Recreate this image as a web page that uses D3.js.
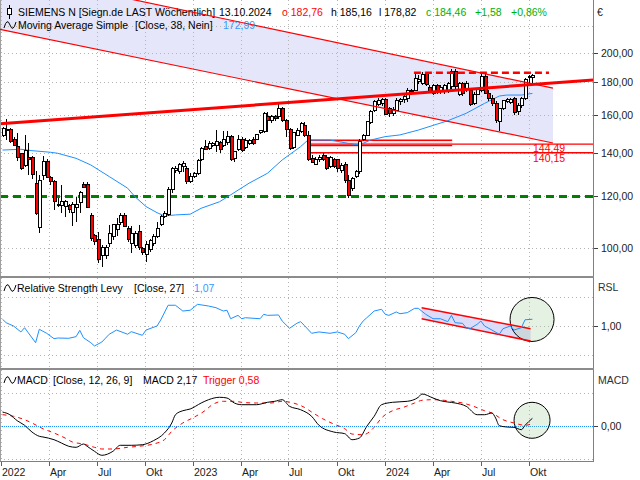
<!DOCTYPE html>
<html><head><meta charset="utf-8">
<script src="https://cdn.jsdelivr.net/npm/d3@7"></script>
<style>
body{margin:0;background:#fff}
svg{display:block}
text{font-family:"Liberation Sans",Arial,sans-serif;font-size:10.5px}
</style>
</head><body>
<svg id="c" width="640" height="480"></svg>
<script>
// ---------------- DATA ----------------
const firstWeek = [2022, 0, 3]; // Monday of first weekly bar
const open  = [148.9,152.3,152.3,147.1,143.2,139.7,133.9,138.0,137.6,125.7,107.6,129.5,135.8,128.5,126.4,116.8,116.2,115.9,116.2,113.3,
115.3,117.3,125.1,125.1,112.0,104.4,102.9,97.3,97.5,101.4,104.0,106.6,109.4,112.0,107.2,101.7,100.9,105.8,99.7,97.6,
99.3,101.4,104.0,108.5,111.6,112.4,122.8,131.8,131.0,133.4,132.6,126.7,128.8,130.1,136.6,143.2,142.3,143.6,144.0,145.5,
144.0,145.3,148.4,137.4,141.9,147.1,142.7,145.0,147.1,147.1,150.4,151.0,159.6,157.4,159.3,159.3,164.2,157.4,152.4,142.7,
149.2,151.0,154.3,148.8,137.3,134.4,136.6,138.8,138.0,133.4,136.9,136.6,131.8,134.2,127.2,123.6,129.0,131.0,146.8,149.1,
155.9,162.9,166.5,166.9,169.6,164.2,161.3,163.1,168.0,169.5,170.0,174.0,175.0,180.7,179.5,185.4,176.8,173.0,177.9,174.3,
174.3,175.1,177.1,187.3,172.6,179.1,175.3,175.1,167.0,172.6,175.1,183.5,173.0,170.0,167.0,156.5,164.0,168.0,167.5,170.0,
162.0,166.0,170.0,183.5,182.76];
const high  = [153.7,157.9,153.0,148.0,150.1,140.0,149.0,145.0,138.5,131.4,129.5,138.3,137.0,129.0,127.2,119.5,124.8,118.5,117.0,117.5,
119.8,122.2,126.3,126.3,113.2,105.0,105.9,100.9,101.0,108.5,109.0,111.1,113.0,113.0,108.0,107.9,106.0,108.5,100.2,102.3,
103.2,105.0,109.7,112.5,114.0,124.0,133.4,133.5,135.0,135.9,133.5,130.3,131.0,137.0,143.0,146.6,146.0,145.5,151.9,146.0,
151.5,151.5,149.0,141.0,149.5,148.0,147.5,147.0,148.0,150.0,152.0,162.0,161.9,160.5,160.0,167.3,165.0,158.2,153.0,151.0,
153.0,156.4,156.4,151.3,139.0,138.0,139.0,140.0,139.0,138.5,137.5,137.0,135.0,135.5,129.5,128.5,132.0,147.0,150.0,157.0,
163.0,169.0,170.0,170.5,170.0,165.0,165.0,170.0,170.5,172.0,176.2,176.0,186.9,184.8,186.9,186.5,178.0,179.0,179.0,178.0,
179.0,180.0,188.9,188.5,180.0,180.0,181.0,176.5,174.0,176.0,185.5,185.5,175.0,172.0,168.5,164.5,169.0,170.5,170.5,171.0,
167.0,171.0,183.0,185.0,185.16];
const low   = [148.3,146.6,145.0,143.5,135.9,131.8,133.4,129.5,127.5,112.4,105.6,127.2,128.0,125.0,114.4,115.5,113.1,111.7,113.0,108.0,
109.7,113.1,123.5,115.0,102.3,101.0,94.7,93.6,96.0,100.4,103.0,104.3,108.5,107.5,102.0,98.1,100.0,99.3,97.5,95.0,
98.5,100.8,103.6,108.0,111.0,112.0,121.5,130.5,130.0,131.0,125.5,125.7,128.0,129.5,136.0,141.5,141.5,143.0,140.3,140.0,
143.0,144.0,135.9,135.8,141.0,140.5,142.0,144.0,144.0,146.5,150.0,150.5,150.7,156.0,157.0,158.2,156.5,148.0,141.5,142.0,
148.5,150.5,148.0,135.9,135.0,134.0,135.5,136.0,131.8,133.0,133.0,131.0,130.5,126.0,119.5,122.5,128.0,130.0,146.0,148.5,
155.0,162.0,165.5,165.5,160.0,159.0,159.5,162.5,166.0,167.0,168.0,172.0,174.5,179.0,178.0,177.5,173.0,172.0,172.5,172.5,
172.5,173.5,175.5,175.5,171.5,171.5,174.0,165.5,166.0,172.0,174.0,172.5,168.5,165.5,155.5,151.5,163.0,167.0,166.5,160.5,
160.0,164.5,169.0,179.5,178.82];
const close = [152.8,151.6,145.7,144.0,138.0,132.6,141.5,136.6,129.9,113.1,127.2,136.1,128.5,126.4,117.9,116.4,117.9,117.9,114.7,116.6,
116.6,121.7,123.9,115.3,103.5,102.3,95.8,100.2,100.0,105.4,108.5,108.5,112.0,107.9,102.9,105.4,105.4,100.2,98.3,101.1,
102.6,104.3,107.2,111.8,113.1,123.1,132.6,132.6,134.2,134.7,126.4,128.8,130.1,136.2,142.1,141.9,144.9,144.9,145.7,141.7,
146.9,148.4,136.9,140.7,147.1,141.5,146.6,146.6,145.0,149.4,151.5,161.3,157.1,159.3,158.2,164.2,157.4,152.4,142.4,150.4,
151.9,155.6,148.8,136.9,135.5,136.9,138.0,136.9,132.6,137.7,133.7,132.6,133.9,126.8,120.6,128.0,131.0,145.8,148.9,156.4,
162.5,168.0,169.0,169.6,160.5,161.3,163.6,169.0,169.5,171.1,175.1,174.9,182.5,181.8,185.1,178.6,174.1,177.9,174.5,176.8,
177.9,179.1,187.3,177.1,179.1,173.0,179.1,166.5,172.6,175.4,183.5,173.0,170.0,167.0,157.4,164.0,168.5,169.3,169.5,161.5,
166.0,170.0,182.0,182.88,184.46];

// Moving average (38) read at sample weeks
const maWeek  = [0,5,8,13,15,20,24,29,34,36,39,42,44,47,51,54,59,62,67,72,76,81,83,89,94,97,100,104,108,113,121,126,131,135,137,141,144];
const maValue = [141.5,141.9,141.2,140.4,139.9,137.4,134.2,128.8,123.6,119.9,115.8,113.3,112.0,112.4,112.7,115.1,117.8,120.7,125.8,130.3,136.6,143.2,146.6,146.6,144.9,144.1,146.6,148.4,149.3,151.9,157.0,161.2,167.0,171.4,172.0,172.0,172.99];

// Relative Strength Levy (27)
const rslWeek  = [0,1,3,5,6,7,9,10,12,14,15,18,20,21,22,24,25,27,29,31,34,35,38,39,42,43,45,47,49,51,53,56,58,60,61,62,64,65,66,70,71,72,75,76,78,80,81,82,84,86,
89,91,93,94,96,97,98,99,101,103,104,105,107,108,110,112,113,115,117,119,121,122,123,125,126,127,129,130,131,133,135,136,138,139,141,142,144];
const rslValue = [1.070,1.034,1.000,0.938,0.982,0.930,0.826,0.966,0.924,0.868,0.875,0.872,0.889,0.955,0.878,0.826,0.792,0.833,0.914,0.958,0.914,0.941,0.903,0.958,1.000,1.063,1.216,1.216,1.156,1.164,1.226,1.208,1.191,1.156,1.164,1.076,1.111,1.076,1.086,1.076,1.122,1.111,1.115,1.052,0.976,1.028,1.045,1.007,0.924,0.938,
0.924,0.938,0.914,0.868,0.930,1.000,1.052,1.086,1.156,1.174,1.122,1.111,1.146,1.128,1.139,1.184,1.184,1.122,1.076,1.076,1.045,1.111,1.034,1.028,0.982,0.972,1.018,1.052,1.000,0.958,0.914,0.972,1.000,0.958,0.982,1.065,1.070];

// MACD (12,26,9)
const macdWeek  = [0,2,4,6,8,10,11,14,16,18,20,22,23,25,27,30,32,35,38,41,44,46,47,49,51,54,56,59,61,63,65,69,72,74,76,78,81,84,86,90,93,95,97,99,101,103,106,110,113,114,117,119,121,123,126,129,131,133,134,135,137,139,141,142,144];
const macdValue = [4.09,3.27,1.45,0.06,-1.97,-3.27,-3.48,-4.30,-5.30,-6.30,-6.61,-5.61,-6.30,-7.82,-9.03,-7.82,-6.00,-6.00,-5.82,-4.61,-2.27,0.76,3.27,4.48,5.00,6.82,7.82,8.55,8.33,6.82,6.30,6.30,7.03,7.33,7.82,5.82,4.79,2.79,0.06,-1.97,-2.48,-4.30,-3.79,-0.24,2.79,6.30,7.03,7.33,8.55,9.55,8.33,7.52,7.12,6.82,5.82,3.27,3.27,3.79,2.27,-0.06,-0.45,-0.55,-1.27,0.06,2.17];
const trigWeek  = [0,3,6,8,11,14,17,19,22,25,27,30,34,37,41,44,46,49,52,55,57,60,63,65,69,73,76,79,82,84,87,90,93,95,98,101,103,106,109,112,114,117,120,122,125,128,131,133,136,139,142,144];
const trigValue = [3.27,2.79,1.76,0.76,-0.97,-2.27,-3.79,-5.00,-5.61,-6.61,-7.12,-7.12,-6.61,-6.30,-5.61,-4.30,-1.76,0.76,2.48,4.48,6.30,7.33,7.33,7.03,6.82,6.82,7.33,6.82,5.52,4.09,2.06,0.45,-0.97,-2.58,-2.79,-0.55,2.27,4.48,5.52,6.82,7.64,7.82,7.64,7.33,6.82,5.82,4.48,3.79,1.76,0.76,0.06,0.58];

// Drawings (week position, value)
const trendWeek = [-0.68, 160.5], trendValue = [155.3, 181.4];
const chanUpWeek = [-0.68, 149.6], chanUpValue = [266.6, 176.3];
const chanLoWeek = [-0.68, 149.6], chanLoValue = [217.1, 145.1];
const resistWeek = [111.8, 148.5], resistValue = 186.2;
const supportWeekStart = 83.3;
const supportLevels = [144.49, 140.15];
const supportLabels = ["144,49", "140,15"];
const shortLevels = [146.5, 143.7];
const shortWeekEnd = 122.2;
const greenLevel = 120;
const rslChanWeek = [113.9, 143.5], rslChanUp = [1.191, 0.972], rslChanLo = [1.076, 0.844];
const rslCircle = {week: 143.9, value: 1.068}, macdCircle = {week: 143.9, value: 1.58};

// Axes
const priceTicks = [100, 120, 140, 160, 180, 200];
const priceGrid = [100, 120, 140, 160, 180, 200, 220];
const rslGrid = [0.7, 1.0, 1.3];
const macdGrid = [-10, 0, 10];
const quarterDates = ["2022-01-01","2022-04-01","2022-07-01","2022-10-01","2023-01-01","2023-04-01","2023-07-01","2023-10-01","2024-01-01","2024-04-01","2024-07-01","2024-10-01"];
const quarterLabels = ["2022","Apr","Jul","Okt","2023","Apr","Jul","Okt","2024","Apr","Jul","Okt"];

// ---------------- LAYOUT ----------------
const svg = d3.select("#c");
const plotR = 593;
const P = {main:[0,276], rsl:[278,368], macd:[370,461]};
const fmt = v => d3.format(".2f")(v).replace(".", ",");

const weekDate = i => new Date(Date.UTC(firstWeek[0], firstWeek[1], firstWeek[2]) + i * 7 * 864e5);
const x = d3.scaleUtc().domain([weekDate(0), weekDate(144)]).range([2.5, 532.4]);
const xw = i => x(weekDate(i));
const yP = d3.scaleLog().domain([90.5, 241]).range([276, 0]);
const yR = d3.scaleLinear().domain([0.7, 1.3]).range([354.8, 297.2]);
const yM = d3.scaleLinear().domain([-10, 10]).range([458.5, 392.5]);

const defs = svg.append("defs");
Object.entries(P).forEach(([k, [t, b]]) => {
  defs.append("clipPath").attr("id", "clip-" + k).append("rect")
    .attr("x", 0).attr("y", t).attr("width", plotR).attr("height", b - t);
});
const gMain = svg.append("g").attr("clip-path", "url(#clip-main)");
const gRsl = svg.append("g").attr("clip-path", "url(#clip-rsl)");
const gMacd = svg.append("g").attr("clip-path", "url(#clip-macd)");

// ---- main: channel fill
const cu = chanUpWeek.map((w, k) => [xw(w), yP(chanUpValue[k])]);
const cl = chanLoWeek.map((w, k) => [xw(w), yP(chanLoValue[k])]);
gMain.append("path").attr("d", d3.line()([cu[0], cu[1], cl[1], cl[0]]) + "Z").attr("fill", "#e6e6fa");

// grids
const dot = g => g.attr("stroke", "#b4b4b4").attr("stroke-width", 1).attr("stroke-dasharray", "1,3").attr("shape-rendering", "crispEdges");
[[gMain, P.main], [gRsl, P.rsl], [gMacd, P.macd]].forEach(([g, [t, b]]) => {
  g.selectAll(null).data(quarterDates).enter().append("line")
    .attr("x1", d => Math.round(x(new Date(d))) + 0.5).attr("x2", d => Math.round(x(new Date(d))) + 0.5)
    .attr("y1", t).attr("y2", b).call(dot);
});
gMain.selectAll(null).data(priceGrid).enter().append("line")
  .attr("x1", 0).attr("x2", plotR).attr("y1", d => Math.round(yP(d)) + 0.5).attr("y2", d => Math.round(yP(d)) + 0.5).call(dot);
gRsl.selectAll(null).data(rslGrid).enter().append("line")
  .attr("x1", 0).attr("x2", plotR).attr("y1", d => Math.round(yR(d)) + 0.5).attr("y2", d => Math.round(yR(d)) + 0.5).call(dot);
gMacd.selectAll(null).data(macdGrid.filter(d => d !== 0)).enter().append("line")
  .attr("x1", 0).attr("x2", plotR).attr("y1", d => Math.round(yM(d)) + 0.5).attr("y2", d => Math.round(yM(d)) + 0.5).call(dot);

// support lines
const xs0 = xw(supportWeekStart), xsE = xw(shortWeekEnd);
gMain.append("rect").attr("x", xs0).attr("width", xsE - xs0)
  .attr("y", yP(shortLevels[0])).attr("height", yP(shortLevels[1]) - yP(shortLevels[0])).attr("fill", "#fbe4ea");
shortLevels.forEach(v => gMain.append("line").attr("x1", xs0).attr("x2", xsE).attr("y1", yP(v)).attr("y2", yP(v))
  .attr("stroke", "#ff0000").attr("stroke-width", 1.3));
supportLevels.forEach(v => gMain.append("line").attr("x1", xs0).attr("x2", plotR).attr("y1", yP(v)).attr("y2", yP(v))
  .attr("stroke", "#ff0000").attr("stroke-width", 1.3));

// green dashed
gMain.append("line").attr("x1", 0).attr("x2", plotR).attr("y1", yP(greenLevel)).attr("y2", yP(greenLevel))
  .attr("stroke", "#008000").attr("stroke-width", 3).attr("stroke-dasharray", "8,5");

// MA
gMain.append("path").datum(maWeek.map((w, k) => [xw(w), yP(maValue[k])]))
  .attr("d", d3.line()).attr("fill", "none").attr("stroke", "#1e90ff").attr("stroke-width", 1);

// candles
const idx = d3.range(open.length);
const cg = gMain.append("g").attr("shape-rendering", "crispEdges");
cg.selectAll("line").data(idx).enter().append("line")
  .attr("x1", i => Math.round(xw(i)) + 0.5).attr("x2", i => Math.round(xw(i)) + 0.5)
  .attr("y1", i => yP(high[i])).attr("y2", i => yP(low[i])).attr("stroke", "#000");
cg.selectAll("rect").data(idx).enter().append("rect")
  .attr("x", i => Math.round(xw(i)) - 1).attr("width", 3)
  .attr("y", i => yP(Math.max(open[i], close[i])))
  .attr("height", i => Math.max(1, Math.abs(yP(open[i]) - yP(close[i]))))
  .attr("fill", i => close[i] >= open[i] ? "#fff" : "#ff0000").attr("stroke", "#000").attr("stroke-width", 1);

// trend / channel lines
gMain.append("line").attr("x1", xw(trendWeek[0])).attr("x2", xw(trendWeek[1]))
  .attr("y1", yP(trendValue[0])).attr("y2", yP(trendValue[1])).attr("stroke", "#ff0000").attr("stroke-width", 3);
gMain.append("line").attr("x1", xw(resistWeek[0])).attr("x2", xw(resistWeek[1]))
  .attr("y1", yP(resistValue)).attr("y2", yP(resistValue)).attr("stroke", "#ff0000").attr("stroke-width", 2.5).attr("stroke-dasharray", "7,4");

// support labels
supportLevels.forEach((v, k) => svg.append("text").attr("x", 533).attr("y", k === 0 ? yP(v) + 7.5 : yP(v) + 9.5)
  .attr("font-size", "9.8px").attr("fill", "#ff0000").text(supportLabels[k]));

// ---- RSL panel
const ru = rslChanWeek.map((w, k) => [xw(w), yR(rslChanUp[k])]);
const rl = rslChanWeek.map((w, k) => [xw(w), yR(rslChanLo[k])]);
gRsl.append("path").attr("d", d3.line()([ru[0], ru[1], rl[1], rl[0]]) + "Z").attr("fill", "#dcdcf8");
gRsl.append("circle").attr("cx", xw(rslCircle.week)).attr("cy", yR(rslCircle.value)).attr("r", 22)
  .attr("fill", "rgba(150,200,140,0.25)").attr("stroke", "#000").attr("stroke-width", 1);
[ru, rl].forEach(pts => gRsl.append("line").attr("x1", pts[0][0]).attr("y1", pts[0][1]).attr("x2", pts[1][0]).attr("y2", pts[1][1])
  .attr("stroke", "#ff0000").attr("stroke-width", 1.5));
gRsl.append("path").datum(rslWeek.map((w, k) => [xw(w), yR(rslValue[k])]))
  .attr("d", d3.line()).attr("fill", "none").attr("stroke", "#1e90ff").attr("stroke-width", 1);

// ---- MACD panel
gMacd.append("line").attr("x1", 0).attr("x2", plotR).attr("y1", Math.round(yM(0)) + 0.5).attr("y2", Math.round(yM(0)) + 0.5)
  .attr("stroke", "#1e90ff").attr("stroke-dasharray", "1,1");
gMacd.append("circle").attr("cx", xw(macdCircle.week)).attr("cy", yM(macdCircle.value)).attr("r", 18)
  .attr("fill", "rgba(150,200,140,0.25)").attr("stroke", "#000").attr("stroke-width", 1);
gMacd.append("path").datum(trigWeek.map((w, k) => [xw(w), yM(trigValue[k])]))
  .attr("d", d3.line().curve(d3.curveMonotoneX)).attr("fill", "none").attr("stroke", "#ff0000").attr("stroke-width", 1).attr("stroke-dasharray", "4,4");
gMacd.append("path").datum(macdWeek.map((w, k) => [xw(w), yM(macdValue[k])]))
  .attr("d", d3.line().curve(d3.curveMonotoneX)).attr("fill", "none").attr("stroke", "#000").attr("stroke-width", 1);

// ---- frames
const frame = svg.append("g").attr("shape-rendering", "crispEdges");
frame.append("line").attr("x1", 0.5).attr("x2", 0.5).attr("y1", 0).attr("y2", 461).attr("stroke", "#a0a0a0");
frame.append("line").attr("x1", plotR + 0.5).attr("x2", plotR + 0.5).attr("y1", 0).attr("y2", 462).attr("stroke", "#808080");
frame.append("line").attr("x1", 0).attr("x2", plotR + 1).attr("y1", 461.5).attr("y2", 461.5).attr("stroke", "#808080");
[277, 369].forEach(y => frame.append("rect").attr("x", 0).attr("y", y - 1).attr("width", plotR + 1).attr("height", 2).attr("fill", "#8c8c8c"));

// right axis labels
const axisLbl = (y, t) => {
  frame.append("line").attr("x1", plotR + 1).attr("x2", plotR + 5).attr("y1", Math.round(y) + 0.5).attr("y2", Math.round(y) + 0.5).attr("stroke", "#404040");
  svg.append("text").attr("x", 601).attr("y", y + 4).attr("fill", "#202020").text(t);
};
priceTicks.forEach(v => axisLbl(yP(v), fmt(v)));
axisLbl(yR(1), fmt(1));
axisLbl(yM(0), fmt(0));
svg.append("text").attr("x", 597).attr("y", 16).attr("fill", "#202020").text("€");
svg.append("text").attr("x", 598).attr("y", 291).attr("font-size", "8px").attr("fill", "#303030").text("RSL");
svg.append("text").attr("x", 598).attr("y", 384).attr("font-size", "8px").attr("fill", "#303030").text("MACD");

// x axis
quarterDates.forEach((d, k) => {
  const xx = Math.round(x(new Date(d))) + 0.5;
  frame.append("line").attr("x1", xx).attr("x2", xx).attr("y1", 462).attr("y2", 466).attr("stroke", "#606060");
  svg.append("text").attr("x", xx + 0.5).attr("y", 476).attr("fill", "#202020").text(quarterLabels[k]);
});

// ---- headers
const T = (x0, y0, t, c) => svg.append("text").attr("x", x0).attr("y", y0).attr("fill", c || "#000").text(t);
const wave = y0 => svg.append("path").attr("d", `M4,${y0 + 3} Q7,${y0 - 8} 10,${y0} T16,${y0 - 3}`)
  .attr("fill", "none").attr("stroke", "#000").attr("stroke-width", 1);
svg.append("line").attr("x1", 9.5).attr("x2", 9.5).attr("y1", 5).attr("y2", 19).attr("stroke", "#000");
svg.append("rect").attr("x", 7.5).attr("y", 8.5).attr("width", 4).attr("height", 6).attr("fill", "#fff").attr("stroke", "#000");
T(18, 16, "SIEMENS N [Siegn.de LAST Wöchentlich]");
T(219, 16, "13.10.2024");
T(282, 16, "o " + fmt(open[144]), "#ff0000");
T(331, 16, "h " + fmt(high[144]));
T(379, 16, "l " + fmt(low[144]));
T(426, 16, "c " + fmt(close[144]), "#00b000");
T(475, 16, "+" + fmt(close[144] - close[143]), "#00b000");
T(511, 16, "+" + fmt((close[144] / close[143] - 1) * 100) + "%", "#00b000");
wave(25);
T(18, 29, "Moving Average Simple");
T(135, 29, "[Close, 38, Nein]");
T(223, 29, fmt(maValue[maValue.length - 1]), "#3399ff");
wave(288);
T(17, 292, "Relative Strength Levy");
T(134, 292, "[Close, 27]");
T(194, 292, fmt(rslValue[rslValue.length - 1]), "#3399ff");
wave(380);
T(17, 384, "MACD");
T(53, 384, "[Close, 12, 26, 9]");
T(143, 384, "MACD " + fmt(macdValue[macdValue.length - 1]));
T(203, 384, "Trigger " + fmt(trigValue[trigValue.length - 1]), "#ff0000");

// main channel lines over header text
svg.append("g").attr("clip-path", "url(#clip-main)").selectAll("line").data([cu, cl]).enter().append("line")
  .attr("x1", p => p[0][0]).attr("y1", p => p[0][1]).attr("x2", p => p[1][0]).attr("y2", p => p[1][1])
  .attr("stroke", "#ff0000").attr("stroke-width", 1.2);
</script>
</body></html>
